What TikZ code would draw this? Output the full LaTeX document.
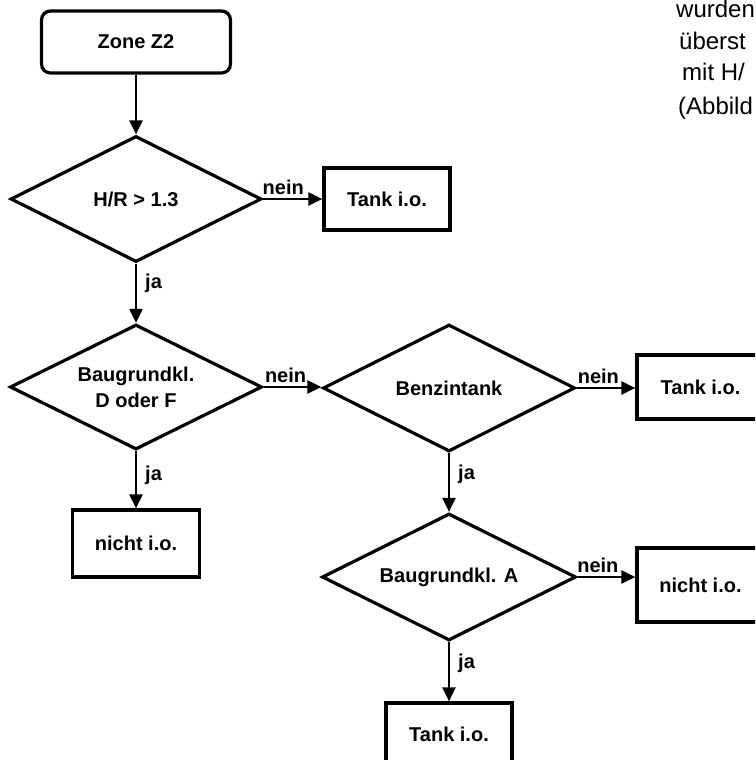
\documentclass[tikz,border=0pt]{standalone}
\usepackage{fontspec}
\setmainfont{Liberation Sans}
\usetikzlibrary{shapes.geometric,arrows.meta,calc}
\begin{document}
\begin{tikzpicture}[x=1pt,y=-1pt,
  txt/.style={font=\fontsize{20}{26}\selectfont\bfseries},
  dec/.style={diamond,draw,line width=3.2pt,inner sep=0pt,aspect=2,align=center,txt},
  box/.style={rectangle,draw,line width=3.2pt,inner sep=0pt,align=center,txt},
  arr/.style={line width=2.4pt,-{Triangle[length=14pt,width=13pt]}},
  lab/.style={txt,inner sep=1pt},
  para/.style={font=\fontsize{24}{33}\selectfont,anchor=base west,inner sep=0pt}]
\useasboundingbox (0,0) rectangle (755,760);
\clip (0,0) rectangle (755,760);

% nodes
\node[box,rounded corners=9pt,minimum width=189pt,minimum height=62pt] (zone) at (136,42) {Zone Z2};
\node[dec,minimum width=251pt,minimum height=126pt] (d1) at (136,199) {H/R > 1.3};
\node[box,minimum width=126pt,minimum height=62pt] (t1) at (387,199) {Tank i.o.};
\node[dec,minimum width=252pt,minimum height=125pt] (d2) at (136,387) {Baugrundkl.\\D oder F};
\node[box,minimum width=127pt,minimum height=67pt] (n1) at (136,543.5) {nicht i.o.};
\node[dec,minimum width=252pt,minimum height=127pt] (d3) at (449,388) {Benzintank};
\node[box,minimum width=127pt,minimum height=64pt] (t2) at (700.5,387) {Tank i.o.};
\node[dec,minimum width=254pt,minimum height=127pt] (d4) at (449,577) {Baugrundkl. A};
\node[box,minimum width=127pt,minimum height=74pt] (n2) at (700.5,585) {nicht i.o.};
\node[box,minimum width=126pt,minimum height=62pt] (t3) at (449,734) {Tank i.o.};

% connectors
\draw[arr] (zone.south) -- (d1.north);
\draw[arr] (d1.east) -- (d1.east -| t1.west) node[lab,above=2pt,pos=0.34] {nein};
\draw[arr] (d1.south) -- (d2.north) node[lab,right=7pt,pos=0.33] {ja};
\draw[arr] (d2.east) -- (d2.east -| d3.west) node[lab,above=2pt,pos=0.38] {nein};
\draw[arr] (d2.south) -- (n1.north) node[lab,right=7pt,pos=0.42] {ja};
\draw[arr] (d3.east) -- (d3.east -| t2.west) node[lab,above=2pt,pos=0.37] {nein};
\draw[arr] (d3.south) -- (d4.north) node[lab,right=7pt,pos=0.36] {ja};
\draw[arr] (d4.east) -- (d4.east -| n2.west) node[lab,above=2pt,pos=0.35] {nein};
\draw[arr] (d4.south) -- (t3.north) node[lab,right=7pt,pos=0.35] {ja};

% cut-off paragraph text at top right
\node[para] (p1) at (676,18) {wurden};
\node[para] (p2) at (679,49) {überst};
\node[para] (p3) at (682,81) {mit H/};
\node[para] (p4) at (678,114) {(Abbild};
\end{tikzpicture}
\end{document}
